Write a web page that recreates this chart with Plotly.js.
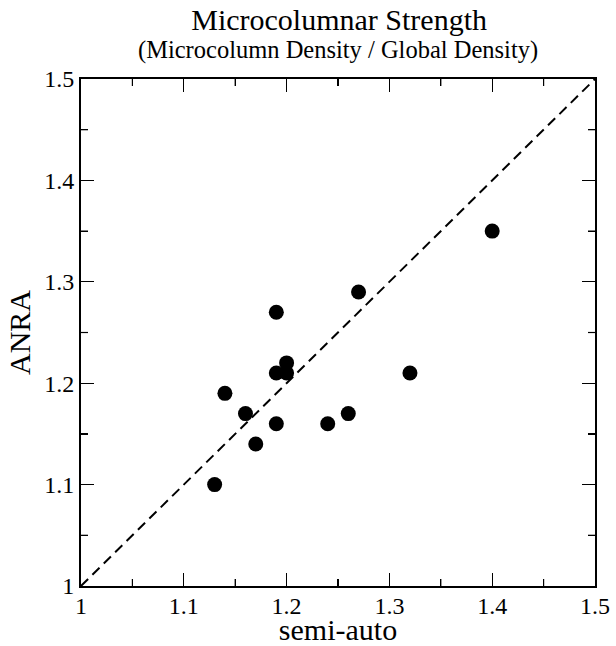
<!DOCTYPE html>
<html>
<head>
<meta charset="utf-8">
<script src="https://cdn.plot.ly/plotly-3.0.1.min.js"></script>
<style>html,body{margin:0;padding:0;background:#fff;}#chart{width:616px;height:646px;}</style>
</head>
<body>
<div id="chart"></div>
<script>
const semiAuto = [1.13, 1.14, 1.16, 1.17, 1.19, 1.19, 1.19, 1.20, 1.20, 1.24, 1.26, 1.27, 1.32, 1.40];
const anra     = [1.10, 1.19, 1.17, 1.14, 1.27, 1.21, 1.16, 1.22, 1.21, 1.16, 1.17, 1.29, 1.21, 1.35];
const identityX = [1, 1.5];
const identityY = [1, 1.5];
const axisRange = [1, 1.5];
const minorTicks = [1.05, 1.15, 1.25, 1.35, 1.45];

const font = 'serif';

function makeAxis(titleText, standoff, labelShift) {
  return {
    range: axisRange,
    tickmode: 'linear',
    tick0: 1,
    dtick: 0.1,
    ticks: 'inside',
    ticklen: 13,
    tickwidth: 1.2,
    tickcolor: '#000',
    ticklabelstandoff: labelShift,
    showline: true,
    linecolor: '#000',
    linewidth: 2,
    mirror: 'ticks',
    showgrid: false,
    zeroline: false,
    tickfont: {family: font, size: 24, color: '#000'},
    minor: {ticks: 'inside', dtick: 0.05, tick0: 1, ticklen: 7, tickwidth: 1.2, tickcolor: '#000', showgrid: false},
    title: {text: titleText, font: {family: font, size: 30, color: '#000'}, standoff: standoff},
    fixedrange: true
  };
}

// minor tick marks on all four sides, placed through the axis scales
const shapes = [];
minorTicks.forEach(v => {
  const s = {type: 'line', layer: 'above', line: {color: '#000', width: 1.2}};
  shapes.push(Object.assign({}, s, {xref: 'x', x0: v, x1: v, yref: 'paper', ysizemode: 'pixel', yanchor: 0, y0: 0, y1: 7}));
  shapes.push(Object.assign({}, s, {xref: 'x', x0: v, x1: v, yref: 'paper', ysizemode: 'pixel', yanchor: 1, y0: 0, y1: -7}));
  shapes.push(Object.assign({}, s, {yref: 'y', y0: v, y1: v, xref: 'paper', xsizemode: 'pixel', xanchor: 0, x0: 0, x1: 7}));
  shapes.push(Object.assign({}, s, {yref: 'y', y0: v, y1: v, xref: 'paper', xsizemode: 'pixel', xanchor: 1, x0: 0, x1: -7}));
});

const data = [
  {x: identityX, y: identityY, mode: 'lines', type: 'scatter',
   line: {color: '#000', width: 2, dash: '10px,6px'}, hoverinfo: 'skip', showlegend: false},
  {x: semiAuto, y: anra, mode: 'markers', type: 'scatter',
   marker: {color: '#000', size: 15, line: {width: 0}}, showlegend: false}
];

const layout = {
  width: 616, height: 646,
  font: {family: font, color: '#000'},
  paper_bgcolor: '#fff', plot_bgcolor: '#fff',
  margin: {l: 81, r: 21, t: 79, b: 60},
  title: {
    text: 'Microcolumnar Strength',
    font: {family: font, size: 30, color: '#000'},
    x: 0.5505, xanchor: 'center', xref: 'container',
    y: 0.970, yanchor: 'middle', yref: 'container'
  },
  annotations: [{
    text: '(Microcolumn Density / Global Density)',
    font: {family: font, size: 24.5, color: '#000'},
    showarrow: false,
    xref: 'paper', x: 0.5, xanchor: 'center',
    yref: 'paper', y: 1.0564, yanchor: 'middle'
  }],
  shapes: shapes,
  xaxis: makeAxis('semi-auto', 6, -3),
  yaxis: makeAxis('ANRA', 5, 0),
  showlegend: false
};

Plotly.newPlot('chart', data, layout, {displayModeBar: false, staticPlot: true});
</script>
</body>
</html>
